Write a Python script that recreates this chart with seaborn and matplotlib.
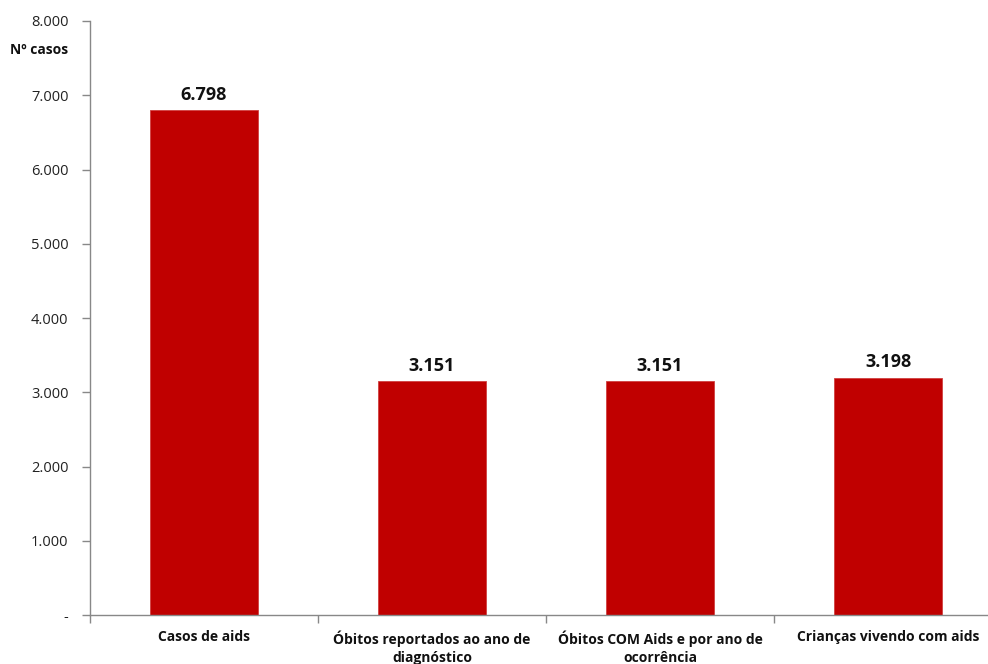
import matplotlib
matplotlib.use("Agg")
import matplotlib.pyplot as plt
import seaborn as sns
import pandas as pd
from matplotlib.ticker import FixedLocator

categories = ["Casos de aids",
              "Óbitos reportados ao ano de\ndiagnóstico",
              "Óbitos COM Aids e por ano de\nocorrência",
              "Crianças vivendo com aids"]
values = [6798, 3151, 3151, 3198]
value_labels = ["6.798", "3.151", "3.151", "3.198"]
yticks = [0, 1000, 2000, 3000, 4000, 5000, 6000, 7000, 8000]
ytick_labels = ["-", "1.000", "2.000", "3.000", "4.000", "5.000", "6.000", "7.000", "8.000"]

sns.set_theme(style="white")
plt.rcParams['font.family'] = ['Open Sans', 'DejaVu Sans']

df = pd.DataFrame({"cat": categories, "val": values})

fig = plt.figure(figsize=(9.88, 6.64), dpi=100)
W, H = 988, 664
ax = fig.add_axes([90 / W, (H - 615) / H, 912 / W, 594 / H])

sns.barplot(data=df, x="cat", y="val", color="#C00000", width=0.47,
            saturation=1, ax=ax, edgecolor="#D04040", linewidth=0.6)

ax.set_ylim(0, 8000)
ax.set_xlim(-0.5, len(categories) - 0.5)
ax.set_yticks(yticks)
ax.set_yticklabels(ytick_labels, fontsize=10.5, color="#222222")
ax.tick_params(axis="y", direction="out", length=6, width=1, color="#888888", pad=9.5, left=True)
ax.tick_params(axis="x", length=0, pad=11)
ax.set_xticks(range(len(categories)))
ax.set_xticklabels(categories, fontsize=10, fontweight="bold", color="#111111", linespacing=1.35)
ax.xaxis.set_minor_locator(FixedLocator([i - 0.5 for i in range(len(categories) + 1)]))
ax.tick_params(axis="x", which="minor", direction="out", length=6, width=1, color="#888888", bottom=True)
ax.set_xlabel("")
ax.set_ylabel("")

for s in ["top", "right"]:
    ax.spines[s].set_visible(False)
for s in ["left", "bottom"]:
    ax.spines[s].set_color("#888888")
    ax.spines[s].set_linewidth(1)

for i, (v, lab) in enumerate(zip(values, value_labels)):
    ax.text(i, v + 85, lab, ha="center", va="bottom", fontsize=13, fontweight="bold", color="#111111")

fig.text(10 / W, 1 - 50 / H, "Nº casos", ha="left", va="center", fontsize=10, fontweight="bold", color="#111111")

fig.savefig("out.png", dpi=100)
